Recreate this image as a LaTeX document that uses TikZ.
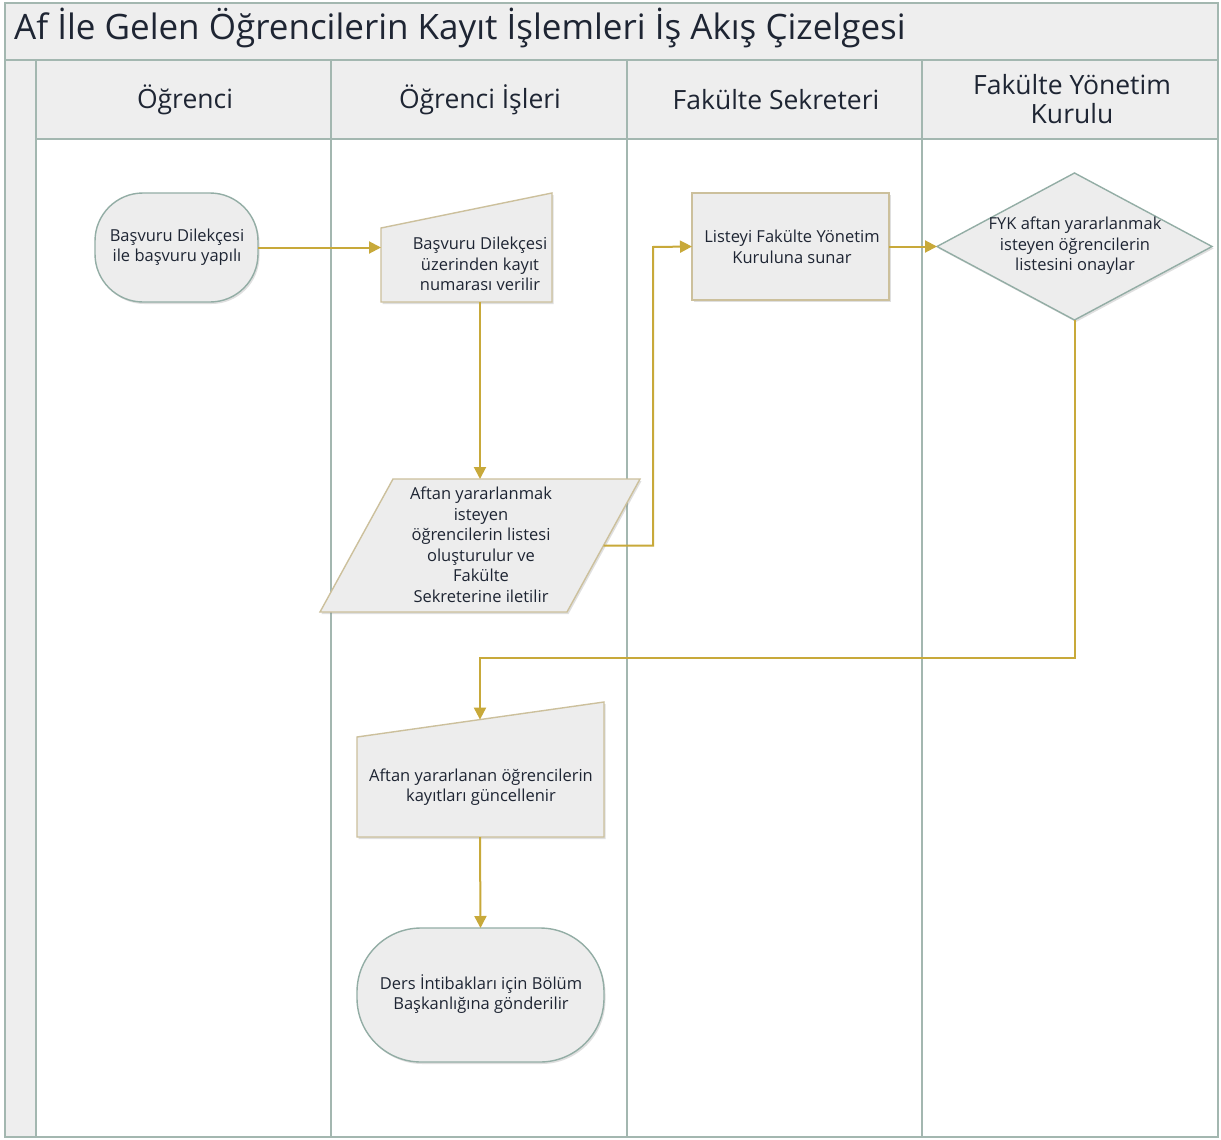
\documentclass[tikz,border=0pt]{standalone}
\usepackage{fontspec}
\setmainfont{Open Sans}
\usetikzlibrary{arrows.meta,calc,shadows}
\definecolor{lanebd}{HTML}{A3B7B0}
\definecolor{hdrfill}{HTML}{EEEEEE}
\definecolor{shfill}{HTML}{EDEDED}
\definecolor{tanbd}{HTML}{CCC09C}
\definecolor{termbd}{HTML}{93ADA5}
\definecolor{arrcol}{HTML}{C8A93A}
\definecolor{txtcol}{HTML}{1E2533}
\begin{document}
\begin{tikzpicture}[x=1pt,y=-1pt,
  lane/.style={draw=lanebd,line width=2pt},
  box/.style={inner sep=0pt,outer sep=0pt,draw=none},
  lbl/.style={align=center,text=txtcol,font=\fontsize{16.5}{20.5}\selectfont,inner sep=0pt},
  hdr/.style={align=center,text=txtcol,font=\fontsize{26.5}{29}\selectfont,inner sep=0pt},
  procshape/.style={fill=shfill,draw=tanbd,line width=1.4pt,drop shadow={shadow xshift=1.5pt,shadow yshift=-2pt,opacity=0.25}},
  termshape/.style={fill=shfill,draw=termbd,line width=1.4pt,drop shadow={shadow xshift=1.5pt,shadow yshift=-2pt,opacity=0.25}},
  flow/.style={draw=arrcol,line width=2pt,-{Triangle[length=12pt,width=12pt]}}
]
\useasboundingbox (0,0) rectangle (1221,1140);
\fill[white] (0,0) rectangle (1221,1140);
% title band
\path[lane,fill=hdrfill] (5,3) rectangle (1218,60);
\node[anchor=base west,text=txtcol,font=\fontsize{35}{40}\selectfont,inner sep=0pt] (title) at (14,40) {Af İle Gelen Öğrencilerin Kayıt İşlemleri İş Akış Çizelgesi};
% left strip and headers
\path[lane,fill=hdrfill] (5,60) rectangle (36,1137);
\path[lane,fill=hdrfill] (36,60) rectangle (1218,139);
\draw[lane] (36,139) rectangle (1218,1137);
\draw[lane] (331,60) -- (331,1137);
\draw[lane] (627,60) -- (627,1137);
\draw[lane] (922,60) -- (922,1137);
\node[hdr] (h1) at (185,100) {Öğrenci};
\node[hdr] (h2) at (480,100) {Öğrenci İşleri};
\node[hdr] (h3) at (776,100) {Fakülte Sekreteri};
\node[hdr] (h4) at (1072,99) {Fakülte Yönetim\\Kurulu};

% T1 terminator
\node[box,minimum width=163pt,minimum height=109pt] (t1) at (176.5,247.5) {};
\path[termshape,rounded corners=48pt] (t1.south west) rectangle (t1.north east);
\node[lbl] (t1t) at (177,247) {Başvuru Dilekçesi\\ile başvuru yapılı};

% M1 manual input
\node[box,minimum width=171pt,minimum height=109pt] (m1) at (466.5,247.5) {};
\path[procshape] (m1.south west) -- ($(m1.north west)+(0,35)$) -- (m1.north east) -- (m1.south east) -- cycle;
\node[lbl] (m1t) at (480,264) {Başvuru Dilekçesi\\üzerinden kayıt\\numarası verilir};

% S1 process
\node[box,minimum width=197pt,minimum height=107pt] (s1) at (790.5,246.5) {};
\path[procshape] (s1.south west) rectangle (s1.north east);
\node[lbl] (s1t) at (792,247) {Listeyi Fakülte Yönetim\\Kuruluna sunar};

% D1 decision
\node[box,minimum width=275pt,minimum height=147pt] (d1) at (1074.5,246.5) {};
\path[termshape] (d1.west) -- (d1.north) -- (d1.east) -- (d1.south) -- cycle;
\node[lbl] (d1t) at (1075,246) {FYK aftan yararlanmak\\isteyen öğrencilerin\\listesini onaylar};

% P1 parallelogram
\node[box,minimum width=320pt,minimum height=133pt] (p1) at (480,545.5) {};
\path[procshape] (p1.south west) -- ($(p1.north west)+(73,0)$) -- (p1.north east) -- ($(p1.south east)+(-73,0)$) -- cycle;
\node[lbl] (p1t) at (481,545) {Aftan yararlanmak\\isteyen\\öğrencilerin listesi\\oluşturulur ve\\Fakülte\\Sekreterine iletilir};
\coordinate (p1r) at ($(p1.east)+(-36.5,0)$);

% M2 manual input
\node[box,minimum width=247pt,minimum height=135pt] (m2) at (480.5,769.5) {};
\path[procshape] (m2.south west) -- ($(m2.north west)+(0,35)$) -- (m2.north east) -- (m2.south east) -- cycle;
\node[lbl] (m2t) at (481,787) {Aftan yararlanan öğrencilerin\\kayıtları güncellenir};
\coordinate (m2top) at (480,719.6);

% T2 terminator
\node[box,minimum width=247pt,minimum height=134pt] (t2) at (480.5,995) {};
\path[termshape,rounded corners=64pt] (t2.south west) rectangle (t2.north east);
\node[lbl] (t2t) at (481,994) {Ders İntibakları için Bölüm\\Başkanlığına gönderilir};

% connectors
\coordinate (b1) at (653,247);
\coordinate (b2) at (480,658);
\draw[flow] (t1.east) -- (m1.west);
\draw[flow] (m1t |- m1.south) -- (p1.north);
\draw[flow] (p1r) -| (b1) -- (s1.west);
\draw[flow] (s1.east) -- (d1.west);
\draw[flow] (d1.south) |- (b2) -- (m2top);
\draw[flow] (m2top |- m2.south) -- (t2.north);
\end{tikzpicture}
\end{document}
